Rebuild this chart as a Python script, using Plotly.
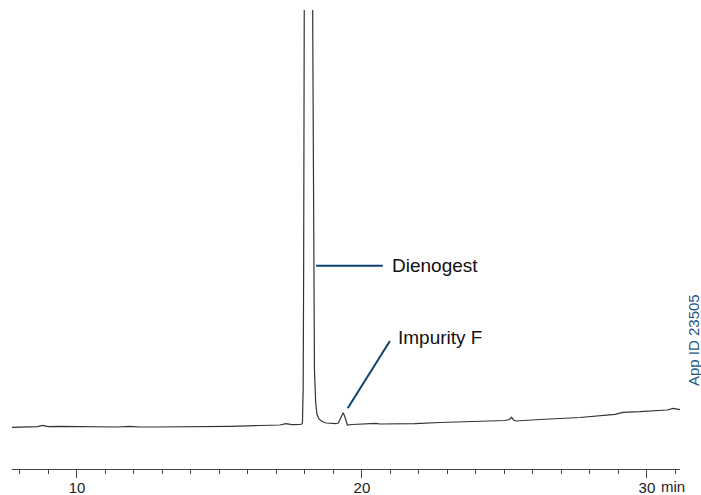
import plotly.graph_objects as go

# Chromatogram (time in min, detector signal in arbitrary units)
time_min = [7.72, 8.18, 8.62, 8.80, 8.98, 9.40, 9.75, 10.30, 10.81, 11.44, 11.86, 12.21,
            12.74, 13.61, 14.32, 15.37, 16.42, 17.12, 17.33, 17.54, 17.82, 17.89,
            17.912, 17.937, 17.954, 17.975, 18.018, 18.123, 18.228, 18.270, 18.298,
            18.333, 18.375, 18.42, 18.49, 18.60, 18.74, 18.95, 19.09, 19.17, 19.25,
            19.30, 19.34, 19.39, 19.44, 19.49, 19.65, 20.11, 20.49, 20.63, 21.16,
            21.39, 21.51, 21.68, 21.86, 22.74, 23.50, 24.32, 25.02, 25.18, 25.25,
            25.32, 25.40, 26.25, 27.65, 28.88, 29.16, 29.75, 30.46, 30.70, 30.92,
            31.05, 31.16]
signal = [41.7, 42.0, 42.3, 43.7, 42.3, 42.6, 42.5, 42.2, 42.3, 42.0, 42.7, 42.0,
          42.0, 42.0, 42.5, 42.7, 43.5, 44.0, 45.3, 44.3, 44.5, 45.0,
          46.0, 80.0, 200.0, 459.0, 1500.0, 3000.0, 1500.0, 459.0, 200.0,
          100.0, 67.0, 55.0, 50.0, 47.5, 46.0, 45.5, 45.3, 46.0, 51.0,
          55.5, 56.3, 53.0, 47.0, 44.0, 44.5, 45.0, 45.7, 45.0, 45.2,
          45.8, 45.3, 45.8, 45.4, 46.5, 47.4, 48.3, 48.5, 49.5, 51.7,
          49.0, 48.0, 49.5, 51.5, 54.7, 56.7, 57.3, 58.5, 59.0, 60.7,
          60.0, 59.3]

# Peak labels: text, label anchor (time, signal), leader line start/end
peak_names = ["Dienogest", "Impurity F"]
label_t = [20.98, 21.18]
label_s = [204.0, 131.3]
leader_t0 = [18.39, 19.50]
leader_s0 = [203.3, 60.7]
leader_t1 = [20.73, 20.98]
leader_s1 = [203.3, 128.0]

x_range = [7.72, 31.16]
y_range = [0, 459]

FONT = "Liberation Sans, Arial, sans-serif"

fig = go.Figure()
fig.add_trace(go.Scatter(x=time_min, y=signal, mode="lines",
                         line=dict(color="#333333", width=1.2),
                         hoverinfo="skip", showlegend=False))

for name, lt, ls, t0, s0, t1, s1 in zip(peak_names, label_t, label_s,
                                         leader_t0, leader_s0, leader_t1, leader_s1):
    fig.add_shape(type="line", x0=t0, y0=s0, x1=t1, y1=s1, xref="x", yref="y",
                  line=dict(color="#0c426e", width=2))
    fig.add_annotation(x=lt, y=ls, xref="x", yref="y", text=name, showarrow=False,
                       xanchor="left", yanchor="middle",
                       font=dict(size=19, color="#111111", family=FONT))

fig.add_annotation(x=1.0, y=0, xref="paper", yref="paper", text="min", showarrow=False,
                   xanchor="right", yanchor="middle", xshift=6, yshift=-17, borderpad=0,
                   font=dict(size=15, color="#222222", family=FONT))

fig.add_annotation(x=1.0195, y=0.281, xref="paper", yref="paper", text="App ID 23505",
                   showarrow=False, textangle=-90, xanchor="center", yanchor="middle",
                   font=dict(size=15, color="#1d5688", family=FONT))

fig.update_layout(
    width=701, height=495,
    margin=dict(l=12, r=21, t=10, b=26, autoexpand=False),
    paper_bgcolor="white", plot_bgcolor="white",
    xaxis=dict(range=x_range, showgrid=False, zeroline=False, showline=True,
               linecolor="#444444", linewidth=1,
               tickmode="linear", tick0=0, dtick=10,
               ticks="outside", ticklen=8, tickwidth=1, tickcolor="#444444",
               ticklabelstandoff=-3,
               tickfont=dict(size=15, color="#222222", family=FONT),
               minor=dict(tickmode="linear", tick0=0, dtick=1, ticks="outside",
                          ticklen=4, tickwidth=1, tickcolor="#444444", showgrid=False),
               automargin=False, fixedrange=True),
    yaxis=dict(range=y_range, visible=False, fixedrange=True),
)

fig.write_html("out.html", config={"displayModeBar": False, "staticPlot": True},
               post_script="document.body.style.margin='0';document.body.style.overflow='hidden';")
